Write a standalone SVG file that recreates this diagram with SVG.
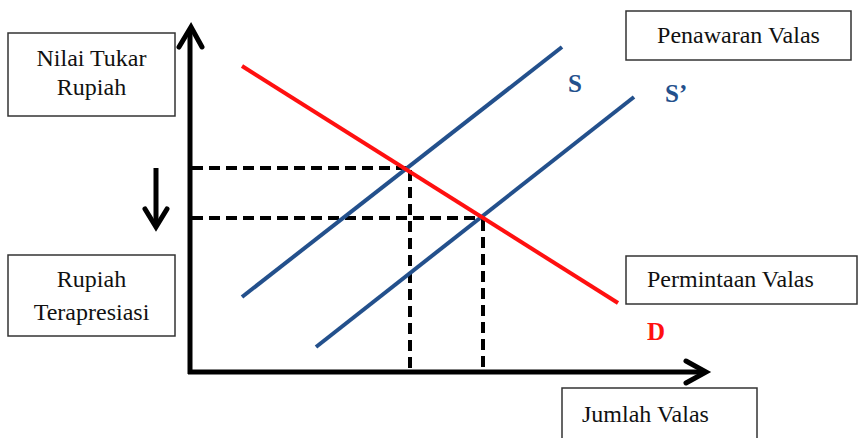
<svg xmlns="http://www.w3.org/2000/svg" width="860" height="438" viewBox="0 0 860 438">
<style>
.box{fill:#fff;stroke:#333;stroke-width:1.5}
.t{font-family:'Liberation Serif',serif;font-size:24px;fill:#111}
.lbl{font-family:'Liberation Serif',serif;font-size:25px;font-weight:bold}
.axis{stroke:#000;stroke-width:5;fill:none}
.head{stroke:#000;stroke-width:5;fill:none;stroke-linecap:round;stroke-linejoin:miter}
.dash{stroke:#000;stroke-width:4;stroke-dasharray:11 6;fill:none}
.sup{stroke:#23508C;stroke-width:4;fill:none}
.dem{stroke:#FF1010;stroke-width:4;fill:none}
</style>
<rect width="860" height="438" fill="#fff"/>
<g id="connectors">
<line class="axis" x1="190" y1="30" x2="190" y2="374"/>
<polyline class="head" points="179,47 191,27 202,47"/>
<line class="axis" x1="188" y1="372" x2="704" y2="372"/>
<polyline class="head" points="686,361 706,372 686,383"/>
<line class="axis" x1="156" y1="168" x2="156" y2="226"/>
<polyline class="head" points="145,209 156,227 167,209"/>
<line class="dash" x1="192" y1="168" x2="410" y2="168"/>
<line class="dash" x1="192" y1="218" x2="483" y2="218"/>
<line class="dash" x1="410" y1="170" x2="410" y2="370"/>
<line class="dash" x1="483" y1="220" x2="483" y2="370"/>
<line class="sup" x1="242" y1="297" x2="562" y2="47"/>
<line class="sup" x1="316" y1="347" x2="634" y2="97"/>
<line class="dem" x1="242" y1="66" x2="618" y2="303"/>
</g>
<g id="nilai">
<rect class="box" x="8" y="33" width="167" height="83"/>
<text class="t" font-family="Liberation Serif" x="91.5" y="66" text-anchor="middle">Nilai Tukar</text>
<text class="t" font-family="Liberation Serif" x="91.5" y="95" text-anchor="middle">Rupiah</text>
</g>
<g id="rupiah">
<rect class="box" x="8" y="255" width="167" height="81"/>
<text class="t" font-family="Liberation Serif" x="91.5" y="287" text-anchor="middle">Rupiah</text>
<text class="t" font-family="Liberation Serif" x="91.5" y="320" text-anchor="middle">Terapresiasi</text>
</g>
<g id="penawaran">
<rect class="box" x="626" y="11" width="225" height="49"/>
<text class="t" font-family="Liberation Serif" x="738.5" y="43" text-anchor="middle">Penawaran Valas</text>
</g>
<g id="permintaan">
<rect class="box" x="626" y="256" width="231" height="48"/>
<text class="t" font-family="Liberation Serif" x="647" y="287">Permintaan Valas</text>
</g>
<g id="jumlah">
<rect class="box" x="562" y="388" width="195" height="60"/>
<text class="t" font-family="Liberation Serif" x="582" y="422">Jumlah Valas</text>
</g>
<g id="labels">
<text class="lbl" x="568" y="92" fill="#23508C">S</text>
<text class="lbl" x="665" y="102" fill="#23508C">S’</text>
<text class="lbl" x="647" y="340" fill="#FF1010">D</text>
</g>
</svg>
